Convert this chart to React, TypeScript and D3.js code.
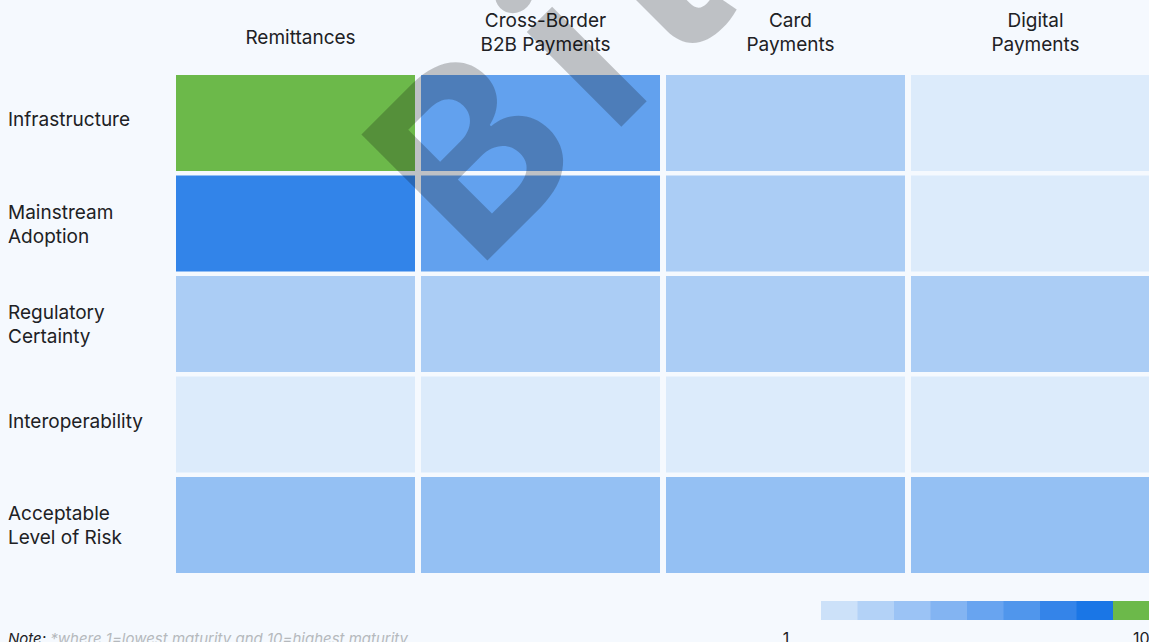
import React, { useEffect, useRef } from "react";
import * as d3 from "d3";

const columns = [["Remittances"], ["Cross-Border", "B2B Payments"], ["Card", "Payments"], ["Digital", "Payments"]];
const rows = [["Infrastructure"], ["Mainstream", "Adoption"], ["Regulatory", "Certainty"], ["Interoperability"], ["Acceptable", "Level of Risk"]];
// maturity scores (1 = lowest, 10 = highest), one array per row
const infrastructure = [10, 5, 2, 1];
const mainstreamAdoption = [7, 5, 2, 1];
const regulatoryCertainty = [2, 2, 2, 2];
const interoperability = [1, 1, 1, 1];
const acceptableRisk = [3, 3, 3, 3];
const values = [infrastructure, mainstreamAdoption, regulatoryCertainty, interoperability, acceptableRisk];
const scoreLevels = [1, 2, 3, 4, 5, 6, 7, 8, 9, 10];
const cellColors = ["#dcebfb", "#abcdf5", "#94c0f3", "#7db1f1", "#62a1ee", "#4a92eb", "#3284e9", "#1a76e6", "#1a76e6", "#6cb94a"];
const legendColors = ["#cce1f9", "#b3d2f7", "#9bc3f5", "#83b4f2", "#68a4f0", "#5096ec", "#3484e9", "#1a76e6", "#6cb94a"];
const legendTicks = ["1", "10"];
const noteLabel = "Note:";
const noteText = " *where 1=lowest maturity and 10=highest maturity";
const watermark = "Bitcoin";

const W = 1149, H = 642;
const FONT = "Inter, 'Noto Sans', sans-serif";

export default function App() {
  const ref = useRef<SVGSVGElement>(null);
  useEffect(() => {
    const svg = d3.select(ref.current);
    svg.selectAll("*").remove();
    svg.append("rect").attr("width", W).attr("height", H).attr("fill", "#f5f9fe");

    const x = d3.scaleBand<number>().domain(d3.range(columns.length)).range([176, 1150]).paddingInner(6 / 245).paddingOuter(0);
    const y = d3.scaleBand<number>().domain(d3.range(rows.length)).range([75, 573]).paddingInner(4.5 / 100.5).paddingOuter(0);
    const color = d3.scaleOrdinal<number, string>().domain(scoreLevels).range(cellColors);

    const cells = values.flatMap((r, i) => r.map((v, j) => ({ i, j, v })));
    svg.append("g").selectAll("rect").data(cells).join("rect")
      .attr("x", d => x(d.j)!).attr("y", d => y(d.i)!)
      .attr("width", x.bandwidth()).attr("height", y.bandwidth())
      .attr("fill", d => color(d.v));

    // column headers
    const hg = svg.append("g").attr("font-family", FONT).attr("font-size", 19).attr("fill", "#202124").attr("text-anchor", "middle");
    columns.forEach((lines, j) => {
      const cx = x(j)! + x.bandwidth() / 2 + 5;
      const t = hg.append("text").attr("x", cx);
      if (lines.length === 1) t.append("tspan").attr("x", cx).attr("y", 44).text(lines[0]);
      else lines.forEach((l, k) => t.append("tspan").attr("x", cx).attr("y", 27 + k * 24).text(l));
    });

    // row labels
    const rg = svg.append("g").attr("font-family", FONT).attr("font-size", 19).attr("fill", "#202124");
    rows.forEach((lines, i) => {
      const cy = y(i)! + y.bandwidth() / 2;
      const t = rg.append("text");
      const base = lines.length === 1 ? cy + 3 : cy + 7 - ((lines.length - 1) * 24) / 2;
      lines.forEach((l, k) => t.append("tspan").attr("x", 8).attr("y", base + k * 24).text(l));
    });

    // legend
    const lx = d3.scaleBand<number>().domain(d3.range(legendColors.length)).range([821, 821 + 36.5 * legendColors.length]);
    svg.append("g").selectAll("rect").data(legendColors).join("rect")
      .attr("x", (_, k) => lx(k)!).attr("y", 601).attr("width", lx.bandwidth() + 0.5).attr("height", 19)
      .attr("fill", d => d);
    const lg = svg.append("g").attr("font-family", FONT).attr("font-size", 16).attr("fill", "#202124");
    lg.append("text").attr("x", 786).attr("y", 644).attr("text-anchor", "middle").text(legendTicks[0]);
    lg.append("text").attr("x", 1133).attr("y", 644).text(legendTicks[1]);

    // note
    const nt = svg.append("text").attr("x", 8).attr("y", 644).attr("font-family", FONT).attr("font-size", 15).attr("font-style", "italic");
    nt.append("tspan").attr("fill", "#202124").text(noteLabel);
    nt.append("tspan").attr("fill", "#b5b9bd").text(noteText);

    // watermark
    svg.append("text").attr("transform", "translate(476,272) rotate(-45)")
      .attr("font-family", FONT).attr("font-weight", 700).attr("font-size", 245).attr("letter-spacing", 28)
      .attr("fill", "#0a0a0a").attr("fill-opacity", 0.23).text(watermark);
  }, []);
  return <svg ref={ref} width={W} height={H} style={{ position: "absolute", left: 0, top: 0, display: "block" }} />;
}
